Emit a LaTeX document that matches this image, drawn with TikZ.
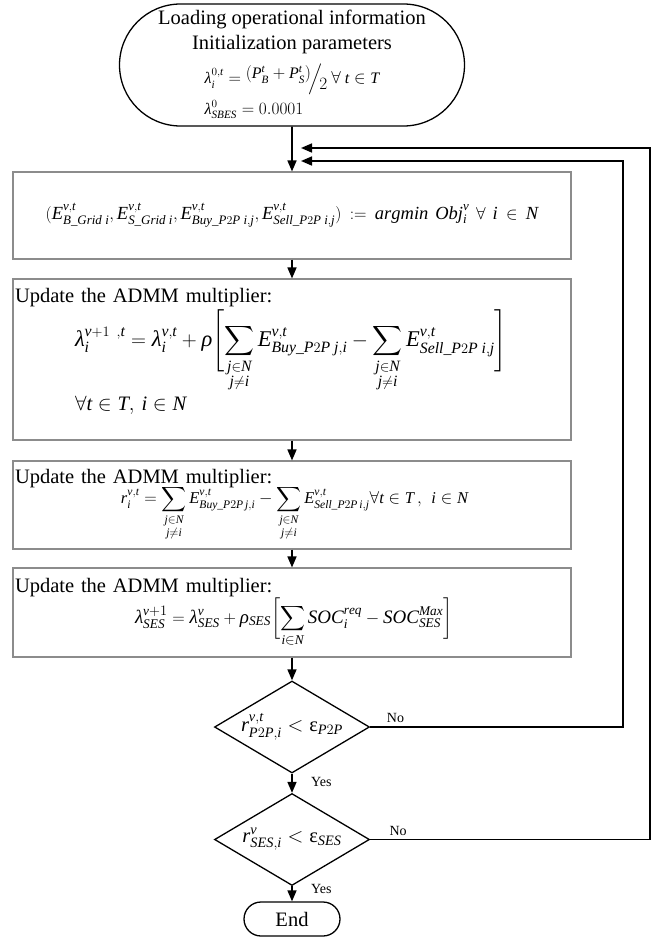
\documentclass[tikz,border=0pt]{standalone}
\usepackage{amsmath}
\usepackage{fontspec}
\setmainfont{Liberation Serif}
\usetikzlibrary{shapes.geometric,shapes.misc,positioning,arrows.meta}
% serif letters and digits in formulas
\DeclareSymbolFont{tletters}{TU}{\rmdefault}{m}{it}
\DeclareSymbolFont{tdigits}{TU}{\rmdefault}{m}{n}
\makeatletter
\@tempcnta=`a
\loop
	\Umathcode\@tempcnta=7 \symtletters \@tempcnta
	\ifnum\@tempcnta<`z \advance\@tempcnta\@ne
\repeat
\@tempcnta=`A
\loop
	\Umathcode\@tempcnta=7 \symtletters \@tempcnta
	\ifnum\@tempcnta<`Z \advance\@tempcnta\@ne
\repeat
\@tempcnta=`0
\loop
	\Umathcode\@tempcnta=7 \symtdigits \@tempcnta
	\ifnum\@tempcnta<`9 \advance\@tempcnta\@ne
\repeat
\makeatother
\renewcommand\lambda{\Umathchar 0 \symtletters "03BB\relax}
\renewcommand\rho{\Umathchar 0 \symtletters "03C1\relax}

\begin{document}
\begin{tikzpicture}[x=1pt,y=1pt,on grid,auto,
	every node/.style={font=\fontsize{20.5}{24}\selectfont},
	term/.style={draw,line width=1.3pt,rounded rectangle,inner sep=0pt},
	box/.style={draw=black!45,line width=1.1pt,minimum width=558pt,text width=554pt,inner xsep=2pt,inner ysep=0pt,align=left},
	test/.style={draw,line width=1.3pt,diamond,aspect=1.7,inner sep=0pt,minimum width=155pt,minimum height=92pt},
	flow/.style={-{Triangle[length=11pt,width=9pt]},line width=1.6pt},
	lbl/.style={font=\fontsize{14}{16}\selectfont}]
	\useasboundingbox (0,0) rectangle (668,-940);
	\node[term,minimum width=345pt,minimum height=122pt,align=center] (start) at (292,-65)
		{Loading operational information\\[1pt]Initialization parameters\\[9pt]
		\fontsize{16}{19}\selectfont
		\begin{tabular}{@{}l@{}}
		$\lambda_i^{0,t}=\raisebox{5pt}{$(P_B^t+P_S^t)$}\!\Big/\!\raisebox{-6pt}{$2$}\ \forall\ t\in T$\\[11pt]
		$\lambda_{SBES}^{0}=0.0001$
		\end{tabular}};
	\node[box,minimum height=87pt,align=center] (obj) [below=150.5pt of start]
		{\fontsize{18.5}{22}\selectfont
		$(E^{v,t}_{B\_Grid\;i},E^{v,t}_{S\_Grid\;i},E^{v,t}_{Buy\_P2P\;i,j},E^{v,t}_{Sell\_P2P\;i,j}):=\mathit{argmin}\ \mathit{Obj}_i^v\ \forall\ i\in N$};
	\node[box,minimum height=161pt] (upd) [below=144pt of obj]
		{Update the ADMM multiplier:\\[2pt]
		\hspace*{60pt}{\fontsize{22.5}{26}\selectfont$\displaystyle\lambda_i^{v+1\ ,t}=\lambda_i^{v,t}+\rho\Biggl[\sum_{\substack{j\in N\\ j\neq i}}E^{v,t}_{Buy\_P2P\;j,i}-\sum_{\substack{j\in N\\ j\neq i}}E^{v,t}_{Sell\_P2P\;i,j}\Biggr]$}\\[3pt]
		\hspace*{60pt}$\forall t\in T,\, i\in N$\rule[-20pt]{0pt}{20pt}};
	\node[box,minimum height=88pt] (res) [below=145.5pt of upd]
		{Update the ADMM multiplier:\\[-4pt]
		\hspace*{106pt}{\fontsize{16.5}{20}\selectfont$\displaystyle r_i^{v,t}=\sum_{\substack{j\in N\\ j\neq i}}E^{v,t}_{Buy\_P2P\,j,i}-\sum_{\substack{j\in N\\ j\neq i}}E^{v,t}_{Sell\_P2P\,i,j}\forall t\in T\,,\ i\in N$}};
	\node[box,minimum height=89pt] (ses) [below=107.5pt of res]
		{Update the ADMM multiplier:\\[0pt]
		\hspace*{120pt}{\fontsize{19}{22}\selectfont$\displaystyle\lambda_{SES}^{v+1}=\lambda_{SES}^{v}+\rho_{SES}\biggl[\sum_{i\in N}SOC_i^{req}-SOC_{SES}^{Max}\biggr]$}};
	\node[test] (chk1) [below=114.5pt of ses] {$r^{v,t}_{P2P,i}<\text{ε}_{P2P}$};
	\node[test] (chk2) [below=112.5pt of chk1] {$r^{v}_{SES,i}<\text{ε}_{SES}$};
	\node[term,minimum width=96pt,minimum height=34pt] (end) [below=79.5pt of chk2] {End};
	% loop entries on the main line
	\coordinate (in1) at (301,-161);
	\coordinate (in2) at (301,-148);
	\draw[flow] (start) -- (obj);
	\draw[flow] (obj) -- (upd);
	\draw[flow] (upd) -- (res);
	\draw[flow] (res) -- (ses);
	\draw[flow] (ses) -- (chk1);
	\draw[flow] (chk1) -- node[lbl,right,xshift=15pt,pos=.45]{Yes} (chk2);
	\draw[flow] (chk2) -- node[lbl,right,xshift=15pt,pos=.2]{Yes} (end);
	\draw[flow] (chk1.east) -- node[lbl,above,pos=.1]{No} ++(253,0) |- (in1);
	\draw[flow] (chk2.east) -- node[lbl,above,pos=.1]{No} ++(280,0) |- (in2);
\end{tikzpicture}
\end{document}
